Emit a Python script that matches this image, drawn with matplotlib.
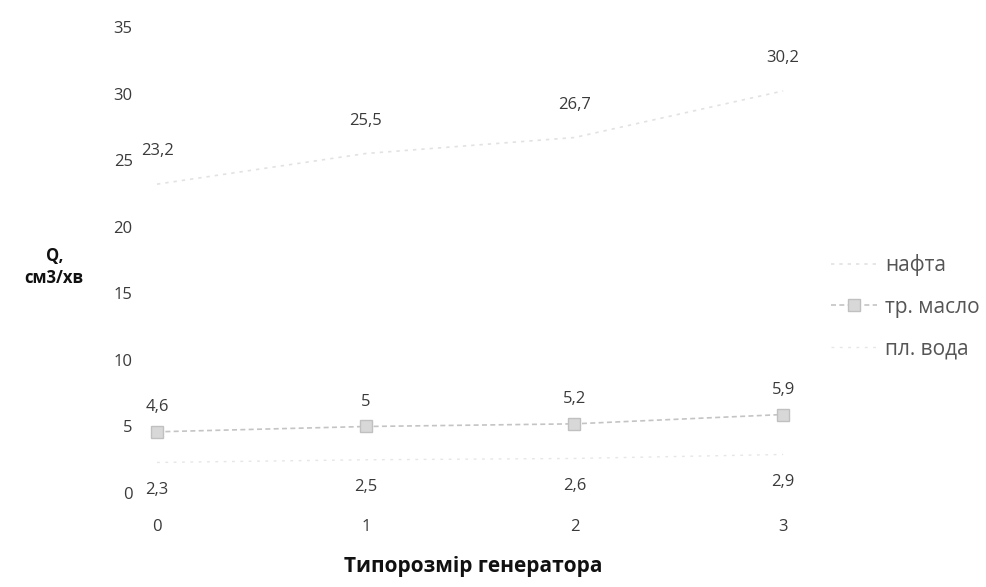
import matplotlib
matplotlib.use("Agg")
import matplotlib.pyplot as plt

plt.rcParams['font.family'] = ['Open Sans', 'DejaVu Sans']

sizes = [0, 1, 2, 3]
naphtha = [23.2, 25.5, 26.7, 30.2]
oil = [4.6, 5.0, 5.2, 5.9]
water = [2.3, 2.5, 2.6, 2.9]
y_ticks = [0, 5, 10, 15, 20, 25, 30, 35]

fig = plt.figure(figsize=(9.87, 5.87), dpi=100)
ax = fig.add_axes([0.1443, 0.160, 0.6703, 0.794])

ax.plot(sizes, naphtha, color='#e2e2e2', lw=1.2, ls=(0, (2, 3)), label='нафта')
ax.plot(sizes, oil, color='#c4c4c4', lw=1.2, ls=(0, (3, 2)), marker='s',
        ms=9, mfc='#d8d8d8', mec='#c0c0c0', label='тр. масло')
ax.plot(sizes, water, color='#e6e6e6', lw=1.0, ls=(0, (2, 4)), label='пл. вода')

def fmt(v):
    s = f"{v:g}"
    return s.replace('.', ',')

txt = '#3a3a3a'
for x, v in zip(sizes, naphtha):
    ax.annotate(fmt(v), (x, v), xytext=(0, 18), textcoords='offset points',
                ha='center', va='bottom', fontsize=12, color=txt)
for x, v in zip(sizes, oil):
    ax.annotate(fmt(v), (x, v), xytext=(0, 12), textcoords='offset points',
                ha='center', va='bottom', fontsize=12, color=txt)
for x, v in zip(sizes, water):
    ax.annotate(fmt(v), (x, v), xytext=(0, -14), textcoords='offset points',
                ha='center', va='top', fontsize=12, color=txt)

ax.set_xlim(-0.07, 3.10)
ax.set_ylim(0, 35)
ax.set_xticks(sizes)
ax.set_yticks(y_ticks)
ax.tick_params(axis='both', length=0, labelsize=12, labelcolor=txt)
ax.tick_params(axis='x', pad=19)
ax.tick_params(axis='y', pad=7)
for s in ax.spines.values():
    s.set_visible(False)

ax.set_xlabel('Типорозмір генератора', fontsize=15, fontweight='bold',
              color='#111111', labelpad=15)
fig.text(0.055, 0.545, 'Q,\nсм3/хв', fontsize=12, fontweight='bold',
         color='#111111', ha='center', va='center', linespacing=1.3)

leg = ax.legend(loc='center left', bbox_to_anchor=(1.0, 0.40), frameon=False,
                fontsize=15, labelcolor='#555555', handlelength=2.2,
                labelspacing=1.0, handletextpad=0.4, borderaxespad=0.9)

fig.savefig('out.png', dpi=100, facecolor='white')
